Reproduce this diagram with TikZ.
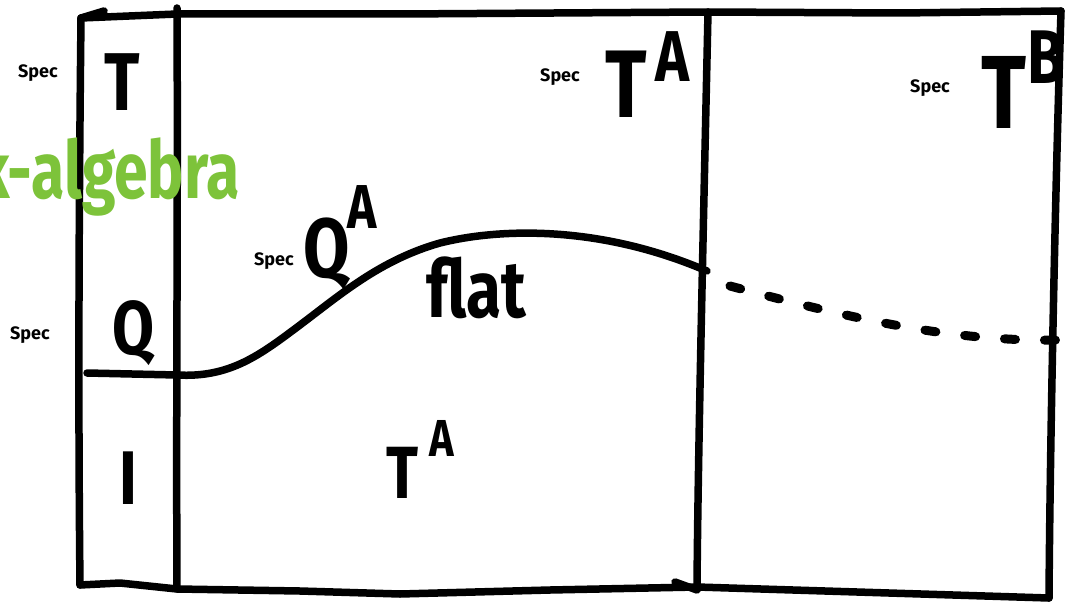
\documentclass[tikz,border=0pt]{standalone}
\usepackage{fontspec}
\setmainfont{Fira Sans}
\definecolor{hgreen}{HTML}{7DC33A}
\begin{document}
\begin{tikzpicture}[x=1pt,y=-1pt,
  ink/.style={line width=7.5pt,line cap=round,line join=round},
  spec/.style={inner sep=0pt,font=\bfseries\fontsize{18}{18}\selectfont},
  big/.style={inner sep=0pt,xscale=0.8,font=\bfseries\fontsize{#1}{#1}\selectfont},
  big/.default=80]
\useasboundingbox (0,0) rectangle (1076,610);
\clip (0,0) rectangle (1076,610);
% frame
\coordinate (tl) at (81,18);
\coordinate (tm) at (177,14);
\coordinate (tr1) at (708,12);
\coordinate (tr) at (1061,11);
\coordinate (bl) at (80,585);
\coordinate (bm) at (177,589);
\coordinate (br1) at (697,587);
\coordinate (br) at (1049,598);
\draw[ink] (tl) -- (104,11);
\draw[ink] (tl) -- (tm) -- (400,14) -- (tr1) -- (900,13) -- (tr);
\draw[ink] (tl) .. controls (79,200) and (78,400) .. (bl);
\draw[ink] (bl) -- (120,583) -- (bm) -- (300,591) -- (400,594) -- (550,590) -- (br1) -- (br);
\draw[ink] (tr) .. controls (1055,200) and (1050,450) .. (br);
\draw[ink] (177,8) .. controls (178,200) and (176,400) .. (bm);
\draw[ink] (tr1) .. controls (704,200) and (698,450) .. (br1);
\draw[ink] (675,582) -- (697,590);
% Q line and curve
\coordinate (ql) at (87,373);
\coordinate (qr) at (177,375);
\coordinate (cr) at (707,271);
\draw[ink] (ql) -- (qr);
\draw[ink] (qr) .. controls (230,378) and (260,355) .. (300,325)
  .. controls (340,295) and (380,260) .. (440,243)
  .. controls (500,228) and (600,225) .. (cr);
\coordinate (dr) at (1060,340);
\draw[ink,line width=9pt,dash pattern=on 11pt off 29pt] (730,286) .. controls (850,318) and (950,342) .. (dr);
% green label
\node[big=80,text=hgreen,anchor=base east,xscale=0.95] (alg) at (240,198) {k-algebra};
% texts
\node[spec] (s1) at (38,73) {Spec};
\node[big=82] (t1) at (122,82) {T};
\node[spec] (s2) at (30,335) {Spec};
\node[big=76] (q1) at (133,333) {Q};
\node[big=76] (i1) at (128,478) {I};
\node[spec] (s3) at (560,77) {Spec};
\node[big=96] (t2) at (626,84) {T};
\node[big=72] (a2) at (672,57) {A};
\node[spec] (s4) at (930,88) {Spec};
\node[big=104] (t3) at (1004,92) {T};
\node[big=76] (b3) at (1046,57) {B};
\node[spec] (s5) at (274,261) {Spec};
\node[big=84] (q2) at (327,254) {Q};
\node[big=62] (a3) at (362,207) {A};
\node[big=80] (fl) at (476,288) {flat};
\node[big=74] (t4) at (402,473) {T};
\node[big=52] (a4) at (442,438) {A};
\end{tikzpicture}
\end{document}
